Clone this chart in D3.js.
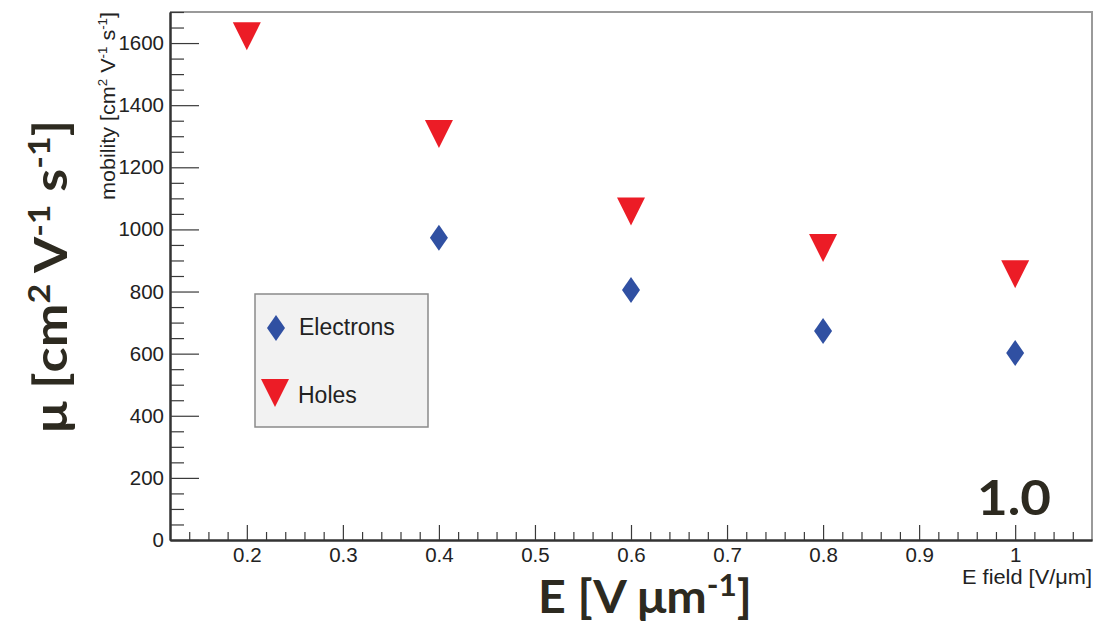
<!DOCTYPE html>
<html>
<head>
<meta charset="utf-8">
<script src="https://cdn.jsdelivr.net/npm/d3@7/dist/d3.min.js"></script>
<style>
  html, body { margin: 0; padding: 0; background: #ffffff; }
  svg { display: block; }
</style>
</head>
<body>
<svg id="chart" width="1107" height="623"></svg>
<script>
// Drift mobility vs. applied electric field
const electronField = [0.4, 0.6, 0.8, 1.0];
const electronMobility = [973, 805, 673, 602];
const holeField = [0.2, 0.4, 0.6, 0.8, 1.0];
const holeMobility = [1622, 1307, 1058, 940, 856];

const xTickValues = [0.2, 0.3, 0.4, 0.5, 0.6, 0.7, 0.8, 0.9, 1.0];
const xTickLabels = ["0.2", "0.3", "0.4", "0.5", "0.6", "0.7", "0.8", "0.9", "1"];
const yTickValues = [0, 200, 400, 600, 800, 1000, 1200, 1400, 1600];
const yTickLabels = ["0", "200", "400", "600", "800", "1000", "1200", "1400", "1600"];
const legendLabels = ["Electrons", "Holes"];

const svg = d3.select("#chart");
const frame = { left: 170, right: 1092, top: 12, bottom: 540 };

const x = d3.scaleLinear().domain([0.12, 1.08]).range([frame.left, frame.right]);
const y = d3.scaleLinear().domain([0, 1700]).range([frame.bottom, frame.top]);

const rootFont = "'Liberation Sans', Arial, Helvetica, sans-serif";
const bigFont = "Lato, 'Open Sans', sans-serif";
const inkDark = "#2d2a20";
const blue = "#3050a2";
const red = "#ec1c26";

// frame: top and right edges in grey
svg.append("path")
  .attr("d", `M${frame.left},${frame.top}H${frame.right}V${frame.bottom}`)
  .attr("fill", "none").attr("stroke", "#9a9a9a").attr("stroke-width", 2);

// y axis: major and minor ticks pointing into the frame
const yMinor = d3.range(0, 1701, 50).filter(v => v % 200 !== 0);
const yMinorAxis = svg.append("g").attr("transform", `translate(${frame.left},0)`)
  .call(d3.axisLeft(y).tickValues(yMinor).tickSize(-14).tickSizeOuter(0).tickFormat(""));
const yAxis = svg.append("g").attr("transform", `translate(${frame.left},0)`)
  .call(d3.axisLeft(y).tickValues(yTickValues).tickSize(-29).tickSizeOuter(0).tickPadding(6)
    .tickFormat((d, i) => yTickLabels[i]));

// x axis
const xMinor = d3.range(0.14, 1.07, 0.02).filter(v => Math.abs(v * 10 - Math.round(v * 10)) > 1e-6);
const xMinorAxis = svg.append("g").attr("transform", `translate(0,${frame.bottom})`)
  .call(d3.axisBottom(x).tickValues(xMinor).tickSize(-8).tickSizeOuter(0).tickFormat(""));
const xAxis = svg.append("g").attr("transform", `translate(0,${frame.bottom})`)
  .call(d3.axisBottom(x).tickValues(xTickValues).tickSize(-15).tickSizeOuter(0).tickPadding(7)
    .tickFormat((d, i) => xTickLabels[i]));

[yMinorAxis, yAxis, xMinorAxis, xAxis].forEach(g => {
  g.selectAll(".domain").attr("stroke", "#333").attr("stroke-width", 2);
  g.selectAll(".tick line").attr("stroke", "#3a3a3a").attr("stroke-width", 1.2);
  g.selectAll(".tick text").attr("font-family", rootFont).attr("font-size", 20.5).attr("fill", "#222");
});

// markers
const diamond = (w, h) => `M0,${-h / 2}L${w / 2},0L0,${h / 2}L${-w / 2},0Z`;
const triDown = (w, h) => `M${-w / 2},${-h / 2}L${w / 2},${-h / 2}L0,${h / 2}Z`;

svg.append("g").selectAll("path")
  .data(holeField.map((f, i) => [f, holeMobility[i]]))
  .join("path")
  .attr("d", triDown(28, 28))
  .attr("transform", d => `translate(${x(d[0])},${y(d[1])})`)
  .attr("fill", red);

svg.append("g").selectAll("path")
  .data(electronField.map((f, i) => [f, electronMobility[i]]))
  .join("path")
  .attr("d", diamond(18, 26))
  .attr("transform", d => `translate(${x(d[0])},${y(d[1])})`)
  .attr("fill", blue);

// legend
const legend = svg.append("g");
legend.append("rect")
  .attr("x", 255).attr("y", 294).attr("width", 173).attr("height", 133)
  .attr("fill", "#f2f2f2").attr("stroke", "#8a8a8a").attr("stroke-width", 1.5);
legend.append("path").attr("d", diamond(18, 26)).attr("transform", "translate(276,328)").attr("fill", blue);
legend.append("path").attr("d", triDown(28, 28)).attr("transform", "translate(275,393)").attr("fill", red);
legend.append("text").attr("x", 299).attr("y", 335).text(legendLabels[0])
  .attr("font-family", rootFont).attr("font-size", 23).attr("fill", "#222");
legend.append("text").attr("x", 298).attr("y", 403).text(legendLabels[1])
  .attr("font-family", rootFont).attr("font-size", 23).attr("fill", "#222");

// small axis titles
const yTitle = svg.append("text")
  .attr("transform", "translate(115,12) rotate(-90)")
  .attr("text-anchor", "end")
  .attr("font-family", rootFont).attr("font-size", 21).attr("fill", "#222")
  .attr("textLength", 188).attr("lengthAdjust", "spacingAndGlyphs");
yTitle.append("tspan").text("mobility [cm");
yTitle.append("tspan").text("2").attr("font-size", 13).attr("dy", -8);
yTitle.append("tspan").text(" V").attr("dy", 8);
yTitle.append("tspan").text("-1").attr("font-size", 13).attr("dy", -8);
yTitle.append("tspan").text(" s").attr("dy", 8);
yTitle.append("tspan").text("-1").attr("font-size", 13).attr("dy", -8);
yTitle.append("tspan").text("]").attr("dy", 8);

svg.append("text")
  .attr("x", 1092).attr("y", 584)
  .attr("text-anchor", "end")
  .attr("font-family", rootFont).attr("font-size", 19.5).attr("fill", "#222")
  .attr("textLength", 130).attr("lengthAdjust", "spacingAndGlyphs")
  .text("E field [V/μm]");

// large axis titles
const bigY = svg.append("text")
  .attr("transform", "translate(67,433) rotate(-90)")
  .attr("font-family", bigFont).attr("font-weight", 700).attr("font-size", 46).attr("fill", inkDark)
  .attr("textLength", 313).attr("lengthAdjust", "spacingAndGlyphs");
bigY.append("tspan").text("μ [cm");
bigY.append("tspan").text("2").attr("font-size", 30).attr("dy", -17);
bigY.append("tspan").text(" V").attr("dy", 17);
bigY.append("tspan").text("-1").attr("font-size", 30).attr("dy", -17);
bigY.append("tspan").text(" s").attr("dy", 17);
bigY.append("tspan").text("-1").attr("font-size", 30).attr("dy", -17);
bigY.append("tspan").text("]").attr("dy", 17);

const bigX = svg.append("text")
  .attr("x", 538).attr("y", 613)
  .attr("font-family", bigFont).attr("font-weight", 700).attr("font-size", 46).attr("fill", inkDark)
  .attr("textLength", 214).attr("lengthAdjust", "spacingAndGlyphs");
bigX.append("tspan").text("E [V μm");
bigX.append("tspan").text("-1").attr("font-size", 30).attr("dy", -17);
bigX.append("tspan").text("]").attr("dy", 17);

svg.append("text")
  .attr("x", 977).attr("y", 515)
  .attr("font-family", bigFont).attr("font-weight", 700).attr("font-size", 48).attr("fill", inkDark)
  .attr("textLength", 74).attr("lengthAdjust", "spacingAndGlyphs")
  .text("1.0");
</script>
</body>
</html>
